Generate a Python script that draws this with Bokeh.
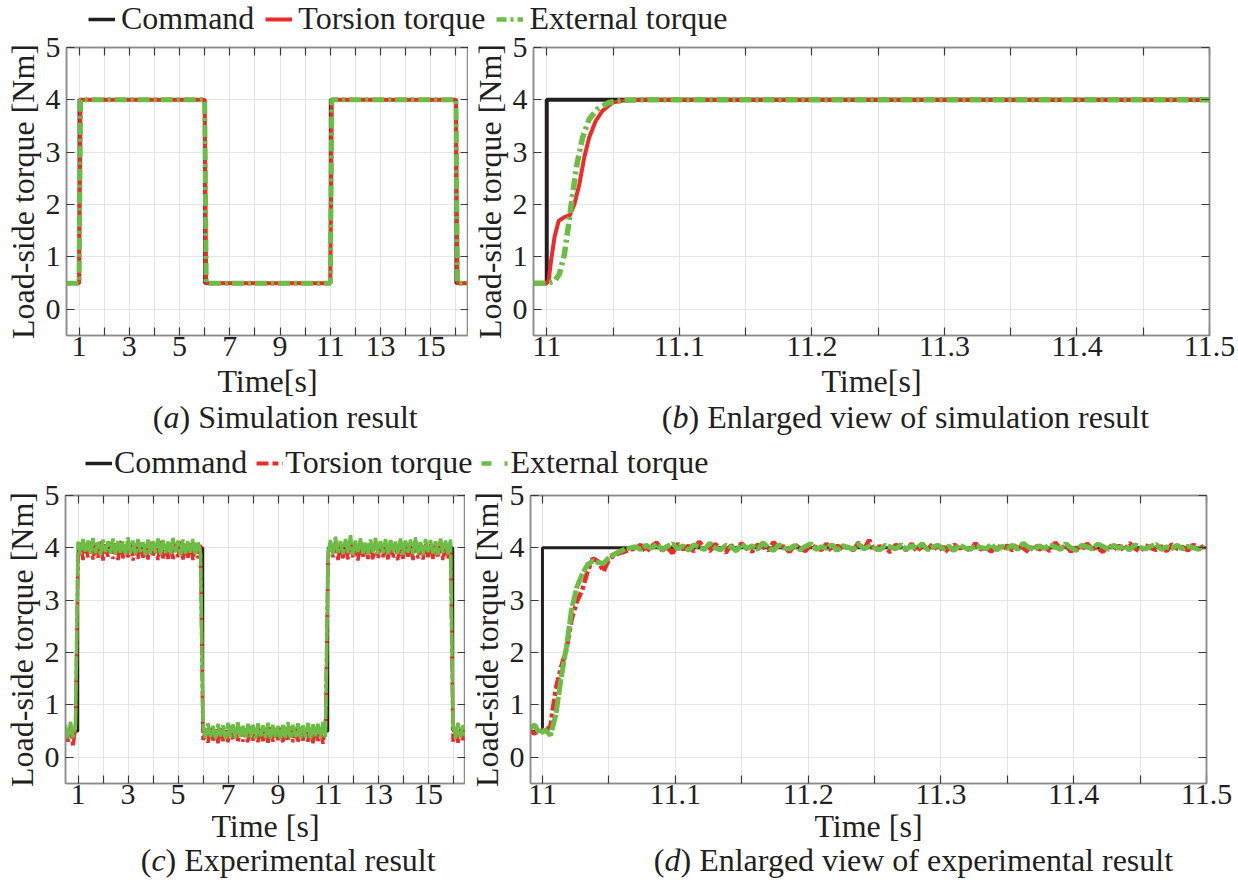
import numpy as np
from bokeh.plotting import figure
from bokeh.models import (Range1d, FixedTicker, CustomJSTickFormatter, Legend,
                          LegendItem, Label, LinearAxis)
from bokeh.layouts import column, row
from bokeh.embed import file_html
from bokeh.resources import INLINE

# ---------------- data ----------------
SERIES = ["Command", "Torsion torque", "External torque"]
Y_RANGE = (-0.5, 5)
Y_TICKS = [0, 1, 2, 3, 4, 5]
FULL_RANGE = (0.5, 16.5)
FULL_TICKS = [1, 3, 5, 7, 9, 11, 13, 15]
FULL_MINOR = [2, 4, 6, 8, 10, 12, 14, 16]
ZOOM_RANGE_B = (10.99, 11.5)
ZOOM_RANGE_D = (10.991, 11.5)
ZOOM_TICKS = [11.0, 11.1, 11.2, 11.3, 11.4, 11.5]
ZOOM_MINOR = [11.05, 11.15, 11.25, 11.35, 11.45]
CAPTIONS = [("a", "Simulation result"),
            ("b", "Enlarged view of simulation result"),
            ("c", "Experimental result"),
            ("d", "Enlarged view of experimental result")]

# (a) simulation, full run
cmd_a_t = [0.5, 1.0, 1.0, 6.0, 6.0, 11.0, 11.0, 16.0, 16.0, 16.5]
cmd_a = [0.5, 0.5, 4.0, 4.0, 0.5, 0.5, 4.0, 4.0, 0.5, 0.5]
tor_a_t = [0.5, 1.0, 1.06, 6.0, 6.06, 11.0, 11.06, 16.0, 16.06, 16.5]
tor_a = [0.5, 0.5, 4.0, 4.0, 0.5, 0.5, 4.0, 4.0, 0.5, 0.5]
ext_a_t = [0.5, 1.0, 1.06, 6.0, 6.06, 11.0, 11.06, 16.0, 16.06, 16.5]
ext_a = [0.5, 0.5, 4.0, 4.0, 0.5, 0.5, 4.0, 4.0, 0.5, 0.5]

# (b) simulation, enlarged
cmd_b_t = [10.99, 11.0, 11.0, 11.5]
cmd_b = [0.5, 0.5, 4.0, 4.0]
tor_b_t = [10.99, 11.0, 11.0015, 11.0032, 11.0058, 11.009, 11.0133, 11.0175, 11.0208,
           11.0246, 11.0283, 11.032, 11.037, 11.042, 11.0496, 11.059, 11.07, 11.5]
tor_b = [0.5, 0.5, 0.55, 0.92, 1.37, 1.69, 1.76, 1.80, 2.0, 2.39, 2.9, 3.28, 3.6, 3.79,
         3.95, 3.99, 4.0, 4.0]
ext_b_t = [10.99, 11.001, 11.0058, 11.0095, 11.0133, 11.0165, 11.0195, 11.0228, 11.027,
           11.032, 11.038, 11.047, 11.057, 11.07, 11.5]
ext_b = [0.5, 0.5, 0.54, 0.67, 1.05, 1.62, 2.2, 2.77, 3.28, 3.63, 3.82, 3.95, 3.99, 4.0, 4.0]

# (c) experiment, full run, sampled every 0.1 s from 0.5 s to 16.5 s
t_c = np.round(np.arange(161) * 0.1 + 0.5, 2)
cmd_c_t = [0.5, 1.0, 1.0, 6.0, 6.0, 11.0, 11.0, 16.0, 16.0, 16.5]
cmd_c = [0.5, 0.5, 4.0, 4.0, 0.5, 0.5, 4.0, 4.0, 0.5, 0.5]
ext_c_start = [0.62, 0.36, 0.68, 0.38, 0.64]
ext_c_high1 = [4.12, 3.88, 4.17, 3.91, 4.14, 3.87, 4.19, 3.90, 4.11, 3.86,
               4.16, 3.92, 4.13, 3.89, 4.18, 3.88, 4.15, 3.91, 4.12, 3.87,
               4.20, 3.90, 4.14, 3.88, 4.17, 3.92, 4.11, 3.86, 4.16, 3.89,
               4.13, 3.91, 4.18, 3.87, 4.15, 3.90, 4.12, 3.88, 4.19, 3.92,
               4.14, 3.86, 4.16, 3.89, 4.13, 3.91, 4.17, 3.88, 4.12, 3.90]
ext_c_low = [0.62, 0.37, 0.65, 0.39, 0.60, 0.36, 0.64, 0.40, 0.61, 0.35,
             0.66, 0.38, 0.63, 0.37, 0.67, 0.39, 0.60, 0.36, 0.64, 0.38,
             0.62, 0.35, 0.65, 0.40, 0.61, 0.37, 0.66, 0.36, 0.63, 0.39,
             0.60, 0.35, 0.64, 0.38, 0.67, 0.37, 0.62, 0.39, 0.65, 0.36,
             0.61, 0.38, 0.66, 0.35, 0.63, 0.40, 0.64, 0.37, 0.68, 0.39]
ext_c_high2 = [3.89, 4.15, 3.87, 4.21, 3.91, 4.13, 3.88, 4.17, 3.90, 4.24,
               3.86, 4.14, 3.92, 4.18, 3.89, 4.12, 3.87, 4.16, 3.91, 4.19,
               3.88, 4.13, 3.90, 4.17, 3.86, 4.15, 3.92, 4.12, 3.89, 4.18,
               3.87, 4.14, 3.91, 4.16, 3.88, 4.20, 3.90, 4.13, 3.86, 4.17,
               3.92, 4.15, 3.89, 4.12, 3.87, 4.18, 3.91, 4.14, 3.88, 4.16]
ext_c_end = [0.63, 0.36, 0.66, 0.38, 0.61, 0.40]
tor_c_start = [0.55, 0.30, 0.60, 0.20, 0.56]
tor_c_high1 = [3.80, 4.10, 3.77, 4.06, 3.82, 4.12, 3.78, 4.08, 3.81, 4.14,
               3.76, 4.07, 3.83, 4.11, 3.79, 4.09, 3.77, 4.13, 3.80, 4.06,
               3.82, 4.10, 3.76, 4.08, 3.79, 4.12, 3.81, 4.07, 3.78, 4.11,
               3.83, 4.09, 3.77, 4.13, 3.80, 4.06, 3.79, 4.10, 3.76, 4.08,
               3.82, 4.12, 3.78, 4.07, 3.81, 4.11, 3.77, 4.09, 3.80, 4.06]
tor_c_low = [0.30, 0.56, 0.28, 0.59, 0.32, 0.55, 0.27, 0.58, 0.31, 0.54,
             0.29, 0.60, 0.33, 0.56, 0.28, 0.57, 0.30, 0.55, 0.27, 0.59,
             0.32, 0.54, 0.29, 0.58, 0.31, 0.56, 0.28, 0.60, 0.30, 0.55,
             0.33, 0.57, 0.27, 0.54, 0.31, 0.59, 0.29, 0.56, 0.28, 0.58,
             0.32, 0.55, 0.30, 0.57, 0.27, 0.60, 0.31, 0.54, 0.26, 0.58]
tor_c_high2 = [3.79, 4.08, 3.82, 4.12, 3.77, 4.06, 3.80, 4.10, 3.78, 4.13,
               3.81, 4.07, 3.76, 4.11, 3.83, 4.09, 3.79, 4.06, 3.77, 4.12,
               3.80, 4.08, 3.82, 4.10, 3.78, 4.14, 3.81, 4.07, 3.76, 4.09,
               3.79, 4.11, 3.83, 4.06, 3.77, 4.13, 3.80, 4.08, 3.78, 4.10,
               3.82, 4.07, 3.79, 4.12, 3.81, 4.09, 3.77, 4.06, 3.80, 4.11]
tor_c_end = [0.30, 0.57, 0.28, 0.55, 0.33, 0.52]
ext_c = ext_c_start + ext_c_high1 + ext_c_low + ext_c_high2 + ext_c_end
tor_c = tor_c_start + tor_c_high1 + tor_c_low + tor_c_high2 + tor_c_end

# (d) experiment, enlarged, sampled every 4 ms from 10.99 s
t_d = np.round(np.arange(128) * 0.004 + 10.99, 3)
cmd_d_t = [10.991, 11.0, 11.0, 11.5]
cmd_d = [0.5, 0.5, 4.0, 4.0]
ext_d_head = [0.55, 0.62, 0.45, 0.52, 0.42, 0.80, 1.50, 2.10, 2.84, 3.26,
              3.50, 3.68, 3.75, 3.72, 3.70, 3.82, 3.88, 3.93, 3.97, 4.00]
ext_d_tail = [4.02, 3.97, 4.05, 3.99, 4.07, 3.96, 4.03, 4.08, 3.98, 4.04,
              3.95, 4.06, 4.01, 3.97, 4.09, 4.00, 3.96, 4.05, 4.02, 3.94,
              4.07, 3.99, 4.04, 3.97, 4.10, 4.01, 3.95, 4.06, 4.00, 3.98,
              4.05, 3.96, 4.03, 4.08, 3.97, 4.02, 3.99, 4.06, 3.95, 4.04,
              4.01, 3.97, 4.07, 3.98, 4.03, 4.00, 3.96, 4.05, 4.02, 3.98,
              4.06, 3.97, 4.04, 3.99, 4.08, 3.96, 4.02, 4.05, 3.98, 4.03,
              3.95, 4.06, 4.00, 3.97, 4.04, 4.01, 3.98, 4.07, 3.96, 4.03,
              3.99, 4.05, 3.97, 4.09, 4.01, 3.96, 4.04, 3.99, 4.06, 4.02,
              3.97, 4.08, 4.00, 3.95, 4.05, 4.02, 3.98, 4.07, 4.03, 3.97,
              4.05, 3.99, 4.04, 3.96, 4.06, 4.01, 3.98, 4.03, 4.07, 3.97,
              4.02, 3.99, 4.05, 3.98, 4.03, 4.00, 3.97, 4.04]
tor_d_head = [0.52, 0.45, 0.55, 0.48, 0.60, 1.30, 1.72, 2.05, 2.64, 2.98,
              3.20, 3.55, 3.80, 3.74, 3.55, 3.78, 3.86, 3.90, 3.93, 3.97]
tor_d_tail = [3.98, 4.06, 3.92, 4.03, 4.10, 3.95, 4.01, 3.90, 4.08, 3.97,
              4.04, 3.93, 4.12, 3.99, 3.94, 4.07, 4.00, 3.91, 4.05, 3.96,
              4.09, 3.98, 3.93, 4.06, 4.02, 3.95, 4.11, 3.97, 4.03, 3.92,
              4.07, 3.99, 3.94, 4.05, 4.01, 3.96, 4.08, 3.93, 4.04, 3.98,
              4.02, 3.95, 4.10, 3.97, 4.15, 3.94, 4.03, 3.99, 3.92, 4.06,
              4.00, 3.96, 4.08, 3.93, 4.04, 3.98, 4.07, 3.95, 4.02, 3.91,
              4.06, 3.99, 4.03, 3.94, 4.09, 3.97, 4.01, 3.93, 4.05, 3.98,
              4.04, 3.95, 4.08, 4.00, 3.92, 4.06, 3.97, 4.02, 3.94, 4.10,
              3.99, 4.05, 3.93, 4.03, 3.96, 4.08, 3.98, 4.01, 3.92, 4.06,
              3.97, 4.04, 3.95, 4.09, 3.99, 3.93, 4.05, 4.00, 3.96, 4.03,
              3.94, 4.07, 3.98, 4.02, 3.95, 4.06, 3.99, 4.03]
ext_d = ext_d_head + ext_d_tail
tor_d = tor_d_head + tor_d_tail

# ---------------- style ----------------
FONT = "Liberation Serif"
TXT = "#231f20"
BLACK = "#231f20"
RED = "#ee2b2b"
GREEN = "#6cbd45"
GRID = "#e4e4e4"
FRAME = "#8c8c8c"
TICK = "#3a3a3a"
W = 1238


def style_ticks(ax):
    ax.major_tick_in = 8
    ax.major_tick_out = 0
    ax.minor_tick_in = 8
    ax.minor_tick_out = 0
    ax.major_tick_line_color = TICK
    ax.minor_tick_line_color = TICK
    ax.major_tick_line_width = 1.2
    ax.minor_tick_line_width = 1.2
    ax.axis_line_color = FRAME
    ax.axis_line_width = 1.5


def panel(width, height, xr, xmaj, xmin, xlabel, mbl, mbr, mbt, mbb, lab_standoff):
    p = figure(width=width, height=height,
               x_range=Range1d(xr[0], xr[1]), y_range=Range1d(Y_RANGE[0], Y_RANGE[1]),
               output_backend="svg", toolbar_location=None,
               min_border_left=mbl, min_border_right=mbr,
               min_border_top=mbt, min_border_bottom=mbb,
               border_fill_color=None, background_fill_color="white")
    p.outline_line_color = FRAME
    p.outline_line_width = 1.5
    fmt = CustomJSTickFormatter(code="return Number(tick.toFixed(3)).toString();")
    p.xaxis[0].ticker = FixedTicker(ticks=xmaj, minor_ticks=xmin)
    p.yaxis[0].ticker = FixedTicker(ticks=Y_TICKS)
    for ax in (p.xaxis[0], p.yaxis[0]):
        ax.formatter = fmt
        style_ticks(ax)
        ax.major_label_text_font = FONT
        ax.major_label_text_font_size = "30px"
        ax.major_label_text_color = TXT
        ax.axis_label_text_font = FONT
        ax.axis_label_text_font_size = "32px"
        ax.axis_label_text_font_style = "normal"
        ax.axis_label_text_color = TXT
    p.xaxis[0].axis_label = xlabel
    p.yaxis[0].axis_label = "Load-side torque [Nm]"
    p.xaxis[0].major_label_standoff = 1
    p.xaxis[0].axis_label_standoff = lab_standoff
    p.yaxis[0].major_label_standoff = 6
    p.yaxis[0].axis_label_standoff = 2
    p.xgrid.grid_line_color = GRID
    p.xgrid.minor_grid_line_color = GRID
    p.ygrid.grid_line_color = GRID
    # box ticks on the top and right edges (no labels)
    blank = CustomJSTickFormatter(code="return '';")
    top = LinearAxis(ticker=FixedTicker(ticks=xmaj, minor_ticks=xmin), formatter=blank,
                     major_label_text_font_size="1px", major_label_standoff=0)
    right = LinearAxis(ticker=FixedTicker(ticks=Y_TICKS), formatter=blank,
                       major_label_text_font_size="1px", major_label_standoff=0)
    style_ticks(top)
    style_ticks(right)
    p.add_layout(top, "above")
    p.add_layout(right, "right")
    return p


def strip(height, margin):
    s = figure(width=W, height=height, x_range=Range1d(0, W), y_range=Range1d(0, height),
               x_axis_type=None, y_axis_type=None, output_backend="svg",
               toolbar_location=None, min_border=0, outline_line_color=None,
               border_fill_color=None, background_fill_color=None, margin=margin)
    return s


def add_legend(s, x0, y0, red_dash, green_dash, standoff, spacing):
    r0 = s.line(x=[np.nan], y=[np.nan], line_color=BLACK, line_width=3.5)
    r1 = s.line(x=[np.nan], y=[np.nan], line_color=RED, line_width=4, line_dash=red_dash)
    r2 = s.line(x=[np.nan], y=[np.nan], line_color=GREEN, line_width=4.5, line_dash=green_dash)
    leg = Legend(items=[LegendItem(label=SERIES[0], renderers=[r0]),
                        LegendItem(label=SERIES[1], renderers=[r1]),
                        LegendItem(label=SERIES[2], renderers=[r2])],
                 location=(x0, y0), orientation="horizontal",
                 border_line_color=None, background_fill_alpha=0,
                 padding=0, margin=0, spacing=spacing, label_standoff=standoff,
                 glyph_width=27, glyph_height=20,
                 label_text_font=FONT, label_text_font_size="32px",
                 label_text_color=TXT)
    s.add_layout(leg)


def caption(s, x0, y, letter, letter_w, rest):
    common = dict(y=y, text_baseline="middle", text_font=FONT,
                  text_font_size="32px", text_color=TXT)
    s.add_layout(Label(x=x0, text="(", text_align="right", **common))
    s.add_layout(Label(x=x0, text=letter, text_align="left",
                       text_font_style="italic", **common))
    s.add_layout(Label(x=x0 + letter_w, text=") " + rest, text_align="left", **common))


# ---------------- top legend (page y 0..40) ----------------
leg1 = strip(40, (0, 0, 0, 0))
add_legend(leg1, 88, 3, "solid", "10 4 3 4", 6, 11)

# ---------------- row 1 (page y 25..401) ----------------
pa = panel(468, 376, FULL_RANGE, FULL_TICKS, FULL_MINOR, "Time[s]", 66, 0, 22, 66, 4)
pa.line(cmd_a_t, cmd_a, line_color=BLACK, line_width=3)
pa.line(tor_a_t, tor_a, line_color=RED, line_width=4)
pa.line(ext_a_t, ext_a, line_color=GREEN, line_width=5, line_dash="12 4 3 4")

pb = panel(770, 376, ZOOM_RANGE_B, ZOOM_TICKS, ZOOM_MINOR, "Time[s]", 63, 29, 22, 66, 4)
pb.line(cmd_b_t, cmd_b, line_color=BLACK, line_width=4)
pb.line(tor_b_t, tor_b, line_color=RED, line_width=4)
pb.line(ext_b_t, ext_b, line_color=GREEN, line_width=5.5, line_dash="12 4 3 4")

# ---------------- captions (a)(b) + second legend (page y 395..484) ----------------
mid = strip(89, (-6, 0, 0, 0))
caption(mid, 163, 68, CAPTIONS[0][0], 16, CAPTIONS[0][1])
caption(mid, 672, 68, CAPTIONS[1][0], 16, CAPTIONS[1][1])
add_legend(mid, 85, 3, "12 4 6 4", "10 13 3 4", 2, 9)

# ---------------- row 2 (page y 476..846) ----------------
pc = panel(465, 370, FULL_RANGE, FULL_TICKS, FULL_MINOR, "Time [s]", 63, 0, 19, 63, 1)
pc.line(cmd_c_t, cmd_c, line_color=BLACK, line_width=2.5)
pc.line(t_c, tor_c, line_color=RED, line_width=3.5, line_dash="16 3 4 3")
pc.line(t_c, ext_c, line_color=GREEN, line_width=3.5, line_dash="24 2")

pd = panel(773, 370, ZOOM_RANGE_D, ZOOM_TICKS, ZOOM_MINOR, "Time [s]", 62, 32, 19, 63, 1)
pd.line(cmd_d_t, cmd_d, line_color=BLACK, line_width=3)
pd.line(t_d, tor_d, line_color=RED, line_width=4.5, line_dash="12 3 4 3")
pd.line(t_d, ext_d, line_color=GREEN, line_width=5, line_dash="16 2")

# ---------------- captions (c)(d) (page y 840..884) ----------------
bot = strip(44, (-6, 0, 0, 0))
caption(bot, 151, 25, CAPTIONS[2][0], 14, CAPTIONS[2][1])
caption(bot, 664, 25, CAPTIONS[3][0], 16, CAPTIONS[3][1])

layout = column(leg1,
                row(pa, pb, margin=(-15, 0, 0, 0)),
                mid,
                row(pc, pd, margin=(-8, 0, 0, 0)),
                bot)
open("out.html", "w").write(file_html(layout, INLINE))
